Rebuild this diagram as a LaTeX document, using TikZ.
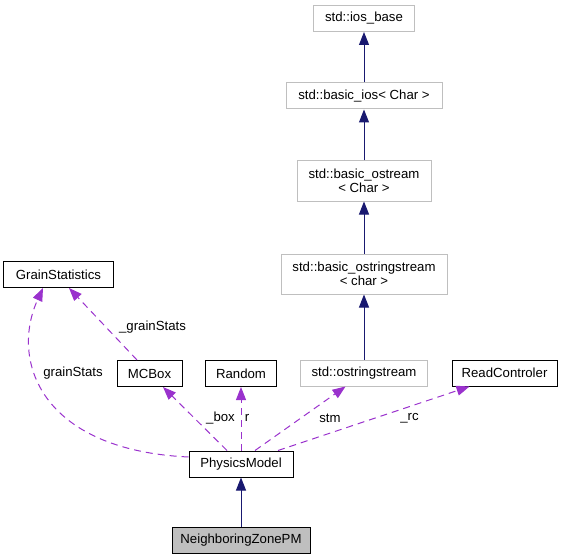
\documentclass[tikz,border=0pt]{standalone}
\usepackage{fontspec}
\setmainfont{Liberation Sans}
\usetikzlibrary{arrows.meta}
\definecolor{orchid}{HTML}{9A32CD}
\definecolor{boxgray}{HTML}{BFBFBF}
\definecolor{navy}{HTML}{191970}
\begin{document}
\begin{tikzpicture}[x=1bp,y=-1bp,font=\fontsize{13.2bp}{14.5bp}\selectfont,
           node_style/.style={rectangle,draw=black,line width=1bp,fill=white,inner sep=0pt,minimum height=26bp,align=center},
           node_style_std/.style={node_style,draw=boxgray},
           node_style_selected/.style={node_style,fill=boxgray},
           label_style/.style={inner sep=0pt},
           edge_style/.style={draw=navy,line width=1bp,-{Triangle[length=13bp,width=10bp]}},
           use_style/.style={draw=orchid,line width=1bp,dash pattern=on 7bp off 5bp,-{Triangle[length=13bp,width=10bp]}}]
            \useasboundingbox (0,0) rectangle (561,560);
            \node[node_style_std,minimum width=101bp] (ios) at (364, 18.5) {std::ios\_base};
            \node[node_style_std,minimum width=156bp] (bios) at (364, 96) {std::basic\_ios< Char >};
            \node[node_style_std,minimum width=134bp,minimum height=40bp] (bos) at (364, 181) {std::basic\_ostream\\< Char >};
            \node[node_style_std,minimum width=166bp,minimum height=40bp] (boss) at (364, 274) {std::basic\_ostringstream\\< char >};
            \node[node_style_std,minimum width=127bp] (oss) at (364, 373) {std::ostringstream};
            \node[node_style,minimum width=105bp] (rc) at (504.5, 373) {ReadControler};
            \node[node_style,minimum width=109bp] (grain) at (58.5, 274.5) {GrainStatistics};
            \node[node_style,minimum width=65bp] (mcbox) at (149.5, 373.5) {MCBox};
            \node[node_style,minimum width=71bp] (random) at (241, 373.5) {Random};
            \node[node_style,minimum width=104bp] (pm) at (241, 464) {PhysicsModel};
            \node[node_style_selected,minimum width=138bp] (nzpm) at (241, 540.5) {NeighboringZonePM};
            % labels
            \node[label_style] (l_grain2) at (152.5, 327) {\_grainStats};
            \node[label_style] (l_grain) at (73, 373) {grainStats};
            \node[label_style] (l_box) at (220.5, 418) {\_box};
            \node[label_style] (l_r) at (247, 418) {r};
            \node[label_style] (l_stm) at (330, 418) {stm};
            \node[label_style] (l_rc) at (409.5, 418) {\_rc};
            % inheritance
            \draw[edge_style]  (nzpm) -- (pm);
            \draw[edge_style]  (oss) -- (boss);
            \draw[edge_style]  (boss) -- (bos);
            \draw[edge_style]  (bos) -- (bios);
            \draw[edge_style]  (bios) -- (ios);
            % usage
            \draw[use_style]  ([xshift=-12.5bp]mcbox.north) -- ([xshift=10.5bp]grain.south);
            \draw[use_style]  ([yshift=7bp]pm.west) .. controls (40,450) and (10,360) .. ([xshift=-15.5bp]grain.south);
            \draw[use_style]  ([xshift=-14bp]pm.north) -- ([xshift=13.5bp]mcbox.south);
            \draw[use_style]  (pm.north) -- (random.south);
            \draw[use_style]  ([xshift=14bp]pm.north) -- ([xshift=-18.5bp]oss.south);
            \draw[use_style]  ([xshift=37bp]pm.north) -- ([xshift=-35bp]rc.south);
        \end{tikzpicture}
\end{document}
